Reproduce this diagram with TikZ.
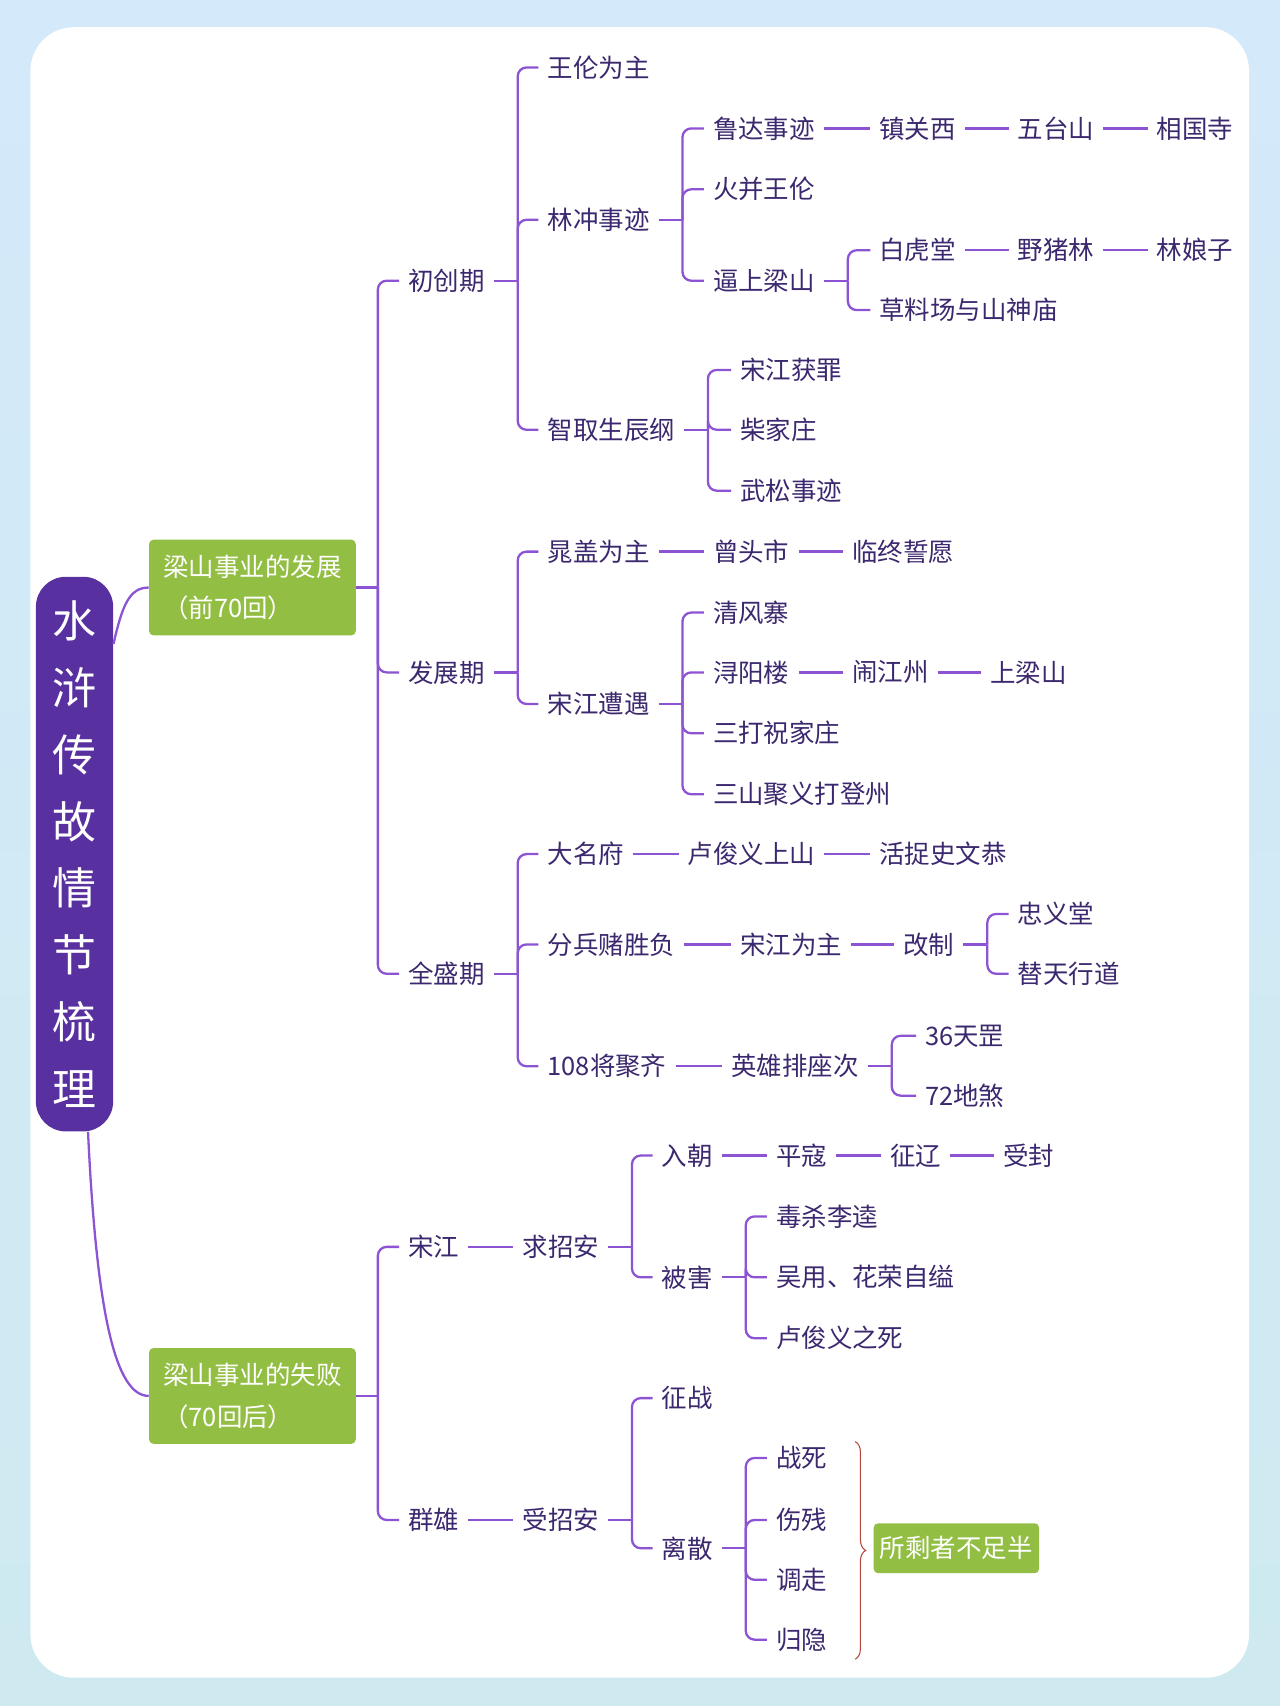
\documentclass[tikz,border=0pt]{standalone}
\usepackage{fontspec}
\setmainfont{Noto Sans CJK SC}
\usetikzlibrary{calc,decorations.pathreplacing}
\definecolor{mmline}{RGB}{140,84,210}
\definecolor{mmtext}{RGB}{60,40,110}
\definecolor{mmroot}{RGB}{88,48,160}
\definecolor{mmgreen}{RGB}{147,190,68}
\definecolor{mmbrace}{RGB}{178,72,60}
\definecolor{bgtop}{RGB}{212,233,250}
\definecolor{bgbot}{RGB}{206,234,240}
\begin{document}
\begin{tikzpicture}[x=0.021769cm, y=-0.021769cm,
  item/.style={anchor=west, inner xsep=0pt, inner ysep=2pt, text=mmtext, font=\fontsize{14.5}{17}\selectfont},
  stage/.style={fill=mmgreen, rounded corners=2.5pt, text=white, align=left, minimum width=4.136cm, minimum height=1.916cm, font=\fontsize{14.5}{23.5}\selectfont},
  root node/.style={fill=mmroot, rounded corners=0.6cm, text=white, align=center, minimum width=1.546cm, minimum height=11.1cm, font=\fontsize{25}{38}\selectfont},
  link/.style={draw=mmline, line width=1.3pt},
  stub/.style={link, shorten <=5pt},
  twig/.style={link, rounded corners=5pt, shorten >=5pt},
  chain/.style={link, shorten <=5pt, shorten >=5pt}]
% background and card
\shade[top color=bgtop, bottom color=bgbot] (0,0) rectangle (1176,1568);
\fill[white, rounded corners=0.87cm] (28,25) rectangle (1148,1542);

\node[root node] (root) at (68.5,785) {水\\浒\\传\\故\\情\\节\\梳\\理};
\node[stage] (qian) at (232,540) {梁山事业的发展\\（前70回）};
\node[stage] (hou) at (232,1283) {梁山事业的失败\\（70回后）};

\begin{scope}[every node/.style=item]
% first 70 chapters
\node (chuchuang) at (375,258) {初创期};
\node (fazhan) at (375,618) {发展期};
\node (quansheng) at (375,895) {全盛期};
\node (wanglun) at (503,62) {王伦为主};
\node (linchong) at (503,202) {林冲事迹};
\node (zhiqu) at (503,395) {智取生辰纲};
\node (luda) at (655,118) {鲁达事迹};
\node (zhenguanxi) at (808,118) {镇关西};
\node (wutai) at (935,118) {五台山};
\node (xiangguo) at (1063,118) {相国寺};
\node (huobing) at (655,174) {火并王伦};
\node (bishang) at (655,258) {逼上梁山};
\node (baihu) at (808,230) {白虎堂};
\node (yezhu) at (935,230) {野猪林};
\node (linniang) at (1063,230) {林娘子};
\node (caoliao) at (808,285) {草料场与山神庙};
\node (huozui) at (680,340) {宋江获罪};
\node (chaijia) at (680,395) {柴家庄};
\node (wusong) at (680,451) {武松事迹};
\node (chaogai) at (503,507) {晁盖为主};
\node (zengtou) at (655,507) {曾头市};
\node (linzhong) at (783,507) {临终誓愿};
\node (zaoyu) at (503,647) {宋江遭遇};
\node (qingfeng) at (655,563) {清风寨};
\node (xunyang) at (655,618) {浔阳楼};
\node (naojiang) at (783,618) {闹江州};
\node (shangliang) at (910,618) {上梁山};
\node (sanda) at (655,674) {三打祝家庄};
\node (sanshan) at (655,730) {三山聚义打登州};
\node (daming) at (503,785) {大名府};
\node (lujunyi) at (632,785) {卢俊义上山};
\node (huozhuo) at (808,785) {活捉史文恭};
\node (fenbing) at (503,868) {分兵赌胜负};
\node (weizhu) at (680,868) {宋江为主};
\node (gaizhi) at (830,868) {改制};
\node (zhongyi) at (935,840) {忠义堂};
\node (titian) at (935,895) {替天行道};
\node (jiangju) at (503,980) {108将聚齐};
\node (paizuo) at (672,980) {英雄排座次};
\node (tiangang) at (850,952) {36天罡};
\node (disha) at (850,1007) {72地煞};
% after chapter 70
\node (songjiang) at (375,1146) {宋江};
\node (qiuzhao) at (480,1146) {求招安};
\node (ruchao) at (608,1062) {入朝};
\node (pingkou) at (713,1062) {平寇};
\node (zhengliao) at (818,1062) {征辽};
\node (shoufeng) at (922,1062) {受封};
\node (beihai) at (608,1174) {被害};
\node (dusha) at (713,1118) {毒杀李逵};
\node (ziyi) at (713,1174) {吴用、花荣自缢};
\node (lusi) at (713,1230) {卢俊义之死};
\node (qunxiong) at (375,1397) {群雄};
\node (shouzhao) at (480,1397) {受招安};
\node (zhengzhan) at (608,1285) {征战};
\node (lisan) at (608,1423) {离散};
\node (zhansi) at (713,1340) {战死};
\node (shangcan) at (713,1397) {伤残};
\node (diaozou) at (713,1452) {调走};
\node (guiyin) at (713,1507) {归隐};
\end{scope}

\node[stage, align=center, minimum width=3.309cm, minimum height=1cm] (shengxia) at (879,1423) {所剩者不足半};

% root to stages
\draw[link] ([yshift=-1.35cm]root.north east) .. controls +(8,-35) and +(-18,0) .. (qian.west);
\draw[link] ([xshift=0.27cm]root.south) .. controls +(8,170) and +(-30,0) .. (hou.west);

% brackets
\draw[link] (qian.east) -- ++(20,0) coordinate (qian-b);
\draw[link] (hou.east) -- ++(20,0) coordinate (hou-b);
\foreach \p in {chuchuang,fazhan,quansheng,linchong,bishang,zhiqu,zaoyu,gaizhi,paizuo,qiuzhao,beihai,shouzhao,lisan}
  \draw[stub] (\p.east) -- ++(30,0) coordinate (\p-b);
\foreach \p/\cs in {qian/{chuchuang,fazhan,quansheng}, hou/{songjiang,qunxiong},
    chuchuang/{wanglun,linchong,zhiqu}, linchong/{luda,huobing,bishang}, bishang/{baihu,caoliao},
    zhiqu/{huozui,chaijia,wusong}, fazhan/{chaogai,zaoyu}, zaoyu/{qingfeng,xunyang,sanda,sanshan},
    quansheng/{daming,fenbing,jiangju}, gaizhi/{zhongyi,titian}, paizuo/{tiangang,disha},
    qiuzhao/{ruchao,beihai}, beihai/{dusha,ziyi,lusi}, shouzhao/{zhengzhan,lisan},
    lisan/{zhansi,shangcan,diaozou,guiyin}}
  \foreach \c in \cs \draw[twig] (\p-b) |- (\c.west);

% chains
\foreach \a/\b in {luda/zhenguanxi, zhenguanxi/wutai, wutai/xiangguo, baihu/yezhu, yezhu/linniang,
    chaogai/zengtou, zengtou/linzhong, xunyang/naojiang, naojiang/shangliang,
    daming/lujunyi, lujunyi/huozhuo, fenbing/weizhu, weizhu/gaizhi, jiangju/paizuo,
    songjiang/qiuzhao, ruchao/pingkou, pingkou/zhengliao, zhengliao/shoufeng, qunxiong/shouzhao}
  \draw[chain] (\a) -- (\b);

% brace
\coordinate (brtop) at (786,1325);
\coordinate (brbot) at (786,1525);
\draw[mmbrace, line width=0.6pt, decorate, decoration={brace, amplitude=6pt}] (brtop) -- (brbot);
\end{tikzpicture}
\end{document}
